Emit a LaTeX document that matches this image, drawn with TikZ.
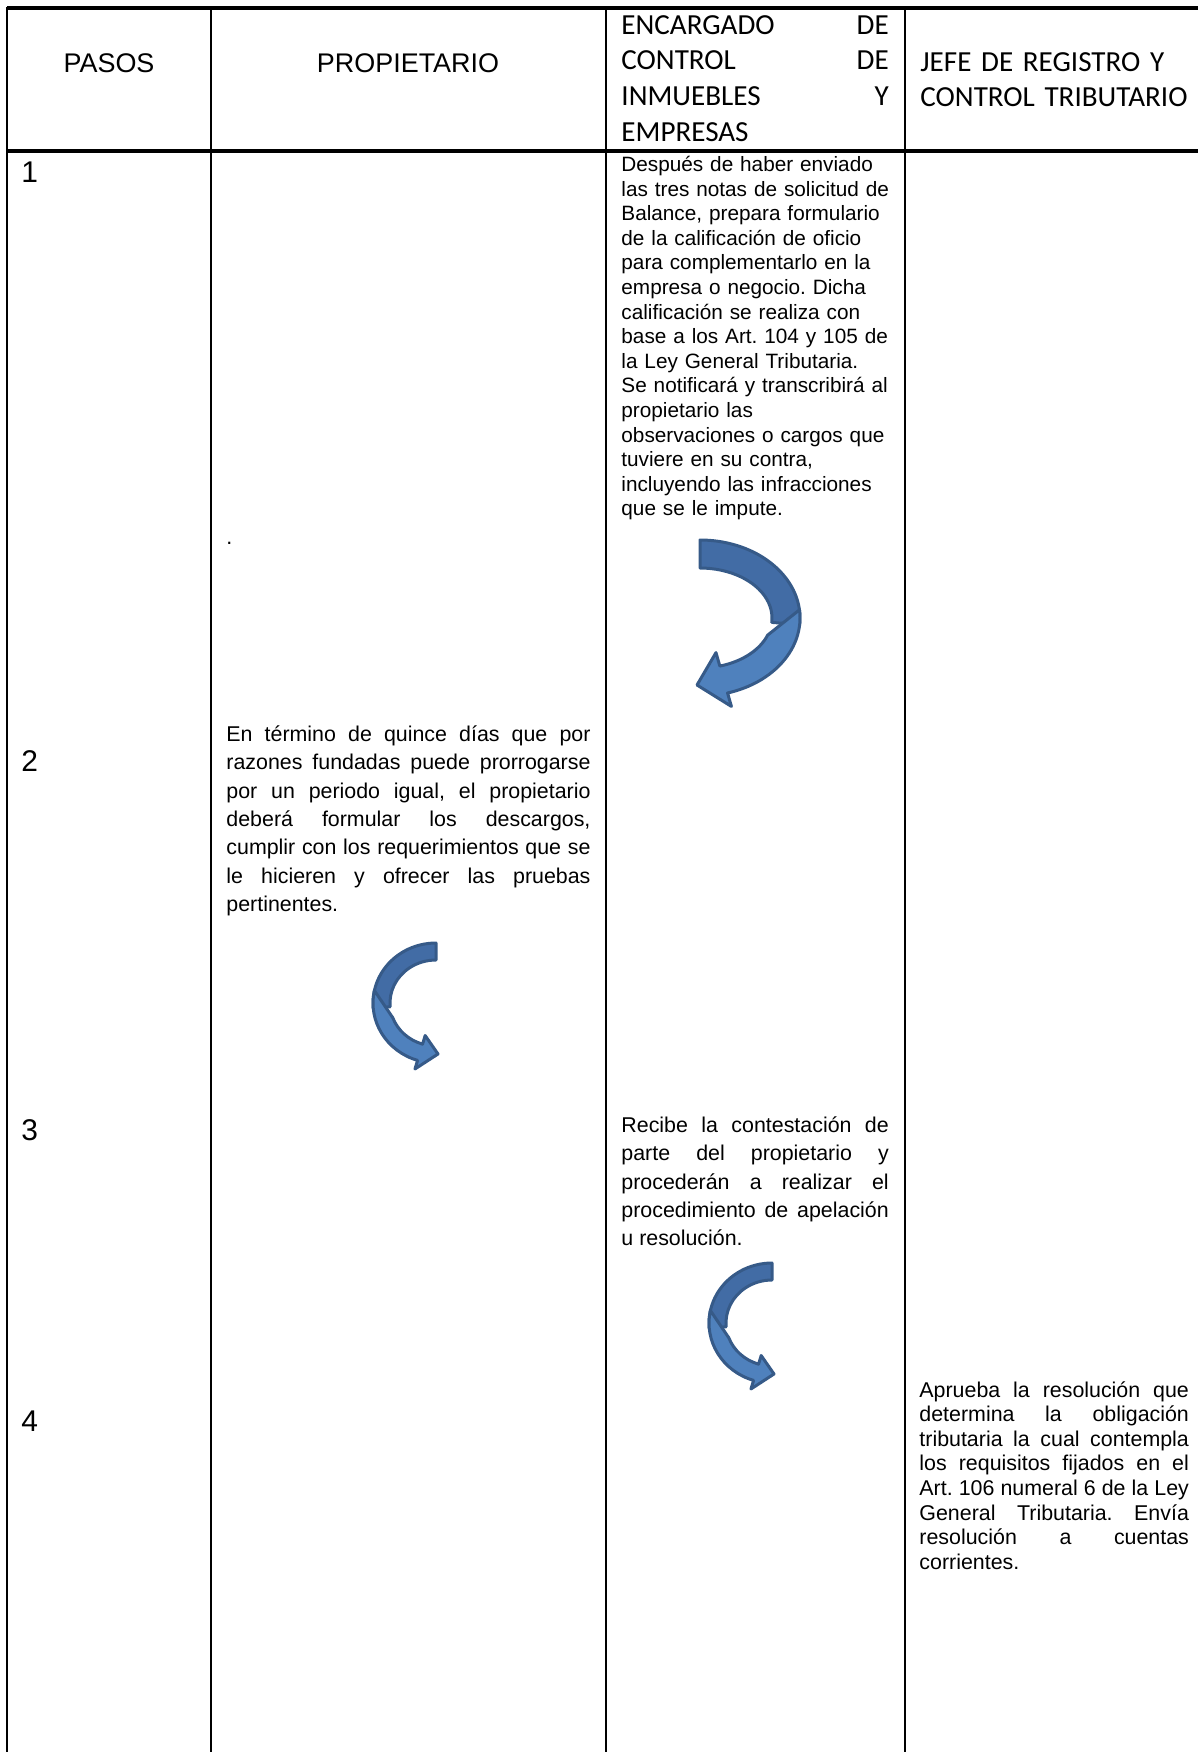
\documentclass[tikz,border=0pt]{standalone}
\usepackage{fontspec}
\setmainfont{Liberation Sans}
\newfontfamily\calibri{Carlito}
\usetikzlibrary{calc}
\definecolor{arrowlight}{RGB}{79,129,189}
\definecolor{arrowdark}{RGB}{66,108,165}
\definecolor{arrowline}{RGB}{54,90,136}
\tolerance=10000
\hyphenpenalty=10000
\frenchspacing

\begin{document}
\begin{tikzpicture}[x=0.4675pt,y=-0.4675pt,
    rule/.style={line width=1pt},
    hrule/.style={line width=1.8pt},
    head/.style={inner sep=0pt,font=\fontsize{12.6}{16.7}\selectfont},
    calhead/.style={inner sep=0pt,anchor=base west,font=\calibri\fontsize{13.6}{16.7}\selectfont},
    num/.style={inner sep=0pt,anchor=base west,font=\fontsize{14}{16}\selectfont},
    lane/.style={inner sep=0pt,anchor=base west,text width=125pt},
    tight/.style={font=\fontsize{10}{11.5}\selectfont},
    loose/.style={font=\fontsize{10}{13.25}\selectfont},
    bandback/.style={fill=arrowdark,draw=arrowline,line width=1.4pt,line join=round},
    bandfront/.style={fill=arrowlight,draw=arrowline,line width=1.4pt,line join=round},
    carrow/.pic={
      \filldraw[bandback] (270:63 and 60) arc[start angle=270,end angle=175,x radius=63,y radius=60]
        -- (175:46 and 43) arc[start angle=175,end angle=270,x radius=46,y radius=43] -- cycle;
      \filldraw[bandfront] (192:63 and 60) arc[start angle=192,end angle=107,x radius=63,y radius=60]
        -- (107:72 and 69) -- (2,51) -- (107:37 and 34) -- (107:46 and 43)
        arc[start angle=107,end angle=160,x radius=46,y radius=43] -- cycle;
    }]
  \useasboundingbox (0,0) rectangle (1198,1752);

  % table rules
  \draw[hrule] (7,8) -- (1198,8);
  \draw[hrule] (7,151) -- (1198,151);
  \foreach \x in {7,211,606,905}
    \draw[rule] (\x,7) -- (\x,1752);

  % header
  \node[head,anchor=base] (pasos) at (109,72) {PASOS};
  \node[head,anchor=base] (prop) at (408,72) {PROPIETARIO};
  \node[calhead,text width=125pt,align=justify] (enc) at (621,34)
    {ENCARGADO DE\linebreak CONTROL DE\linebreak INMUEBLES Y\linebreak EMPRESAS};
  \node[calhead,text width=140pt,align=left] (jefe) at (920,71) {JEFE DE REGISTRO Y\\CONTROL TRIBUTARIO};

  % steps
  \foreach \n/\y in {1/182,2/771,3/1140,4/1431}
    \node[num] (p\n) at (21,\y) {\n};

  \node[lane,font=\fontsize{9.7}{11.5}\selectfont,text width=140pt,align=left] (t1) at (621,171.5)
    {Después de haber enviado\\
     las tres notas de solicitud de\\
     Balance, prepara formulario\\
     de la calificación de oficio\\
     para complementarlo en la\\
     empresa o negocio. Dicha\\
     calificación se realiza con\\
     base a los Art. 104 y 105 de\\
     la Ley General Tributaria.\\
     Se notificará y transcribirá al\\
     propietario las\\
     observaciones o cargos que\\
     tuviere en su contra,\\
     incluyendo las infracciones\\
     que se le impute.};
  \node[inner sep=0pt,anchor=base west,font=\fontsize{10}{12}\selectfont] (dot) at (226,544) {.};
  \node[lane,loose,text width=170.2pt,align=justify] (t2) at (226,741.5)
    {En término de quince días que por\linebreak
     razones fundadas puede prorrogarse\linebreak
     por un periodo igual, el propietario\linebreak
     deberá formular los descargos,\linebreak
     cumplir con los requerimientos que se\linebreak
     le hicieren y ofrecer las pruebas\linebreak
     pertinentes.};
  \node[lane,loose,align=justify] (t3) at (621,1132.5)
    {Recibe la contestación de\linebreak
     parte del propietario y\linebreak
     procederán a realizar el\linebreak
     procedimiento de apelación\linebreak
     u resolución.};
  \node[lane,tight,text width=126pt,align=justify] (t4) at (919,1397)
    {Aprueba la resolución que\linebreak
     determina la obligación\linebreak
     tributaria la cual contempla\linebreak
     los requisitos fijados en el\linebreak
     Art. 106 numeral 6 de la Ley\linebreak
     General Tributaria. Envía\linebreak
     resolución a cuentas\linebreak
     corrientes.};

  % curved arrows
  \coordinate (a1) at (700,618);
  \filldraw[bandback] ($(a1)+(-90:100 and 78)$) arc[start angle=-90,end angle=5,x radius=100,y radius=78]
    -- ($(a1)+(5:72 and 50)$) arc[start angle=5,end angle=-90,x radius=72,y radius=50] -- cycle;
  \filldraw[bandfront] ($(a1)+(-6:100 and 78)$) arc[start angle=-6,end angle=74,x radius=100,y radius=78]
    -- ($(a1)+(74:114 and 92)$) -- ($(a1)+(-3,67)$) -- ($(a1)+(74:58 and 36)$)
    -- ($(a1)+(74:72 and 50)$) arc[start angle=74,end angle=20,x radius=72,y radius=50] -- cycle;
  \pic at (436,1003) {carrow};
  \pic at (772,1323) {carrow};
\end{tikzpicture}
\end{document}
